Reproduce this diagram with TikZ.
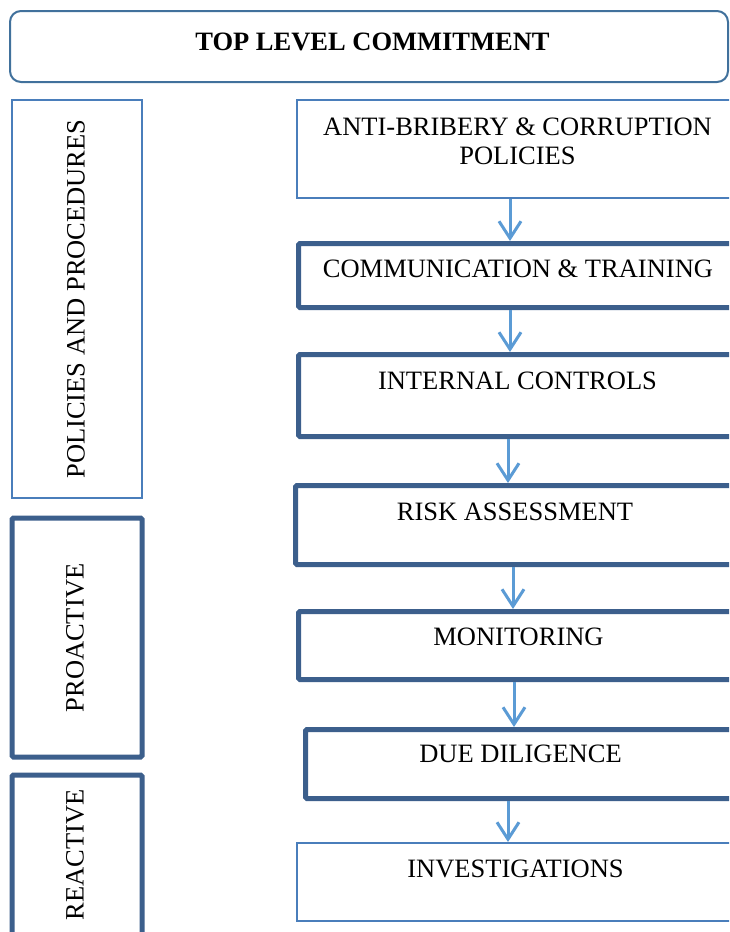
\documentclass[tikz,border=0pt]{standalone}
\usepackage{fontspec}
\setmainfont{Liberation Serif}
\usetikzlibrary{arrows.meta}
\definecolor{thickblue}{HTML}{3C5F8C}
\definecolor{thinblue}{HTML}{4A7EBB}
\definecolor{topblue}{HTML}{41719C}
\definecolor{arrowblue}{HTML}{5B9BD5}
\tikzset{
  thinbox/.style={draw=thinblue, line width=2pt, fill=white, inner sep=0pt},
  thickbox/.style={draw=thickblue, line width=5pt, fill=white, inner sep=0pt, rounded corners=1.5pt},
  topbox/.style={draw=topblue, line width=2pt, fill=white, inner sep=0pt, rounded corners=11pt},
  lbl/.style={font=\fontsize{26.5}{29}\selectfont, inner sep=0pt, align=center},
  flow/.style={draw=arrowblue, line width=3pt, -{Straight Barb[length=17pt,width=22pt]}}
}
\begin{document}
\begin{tikzpicture}[x=1pt, y=-1pt]
\useasboundingbox (0,0) rectangle (729,932);
\fill[white] (0,0) rectangle (729,932);
\clip (0,0) rectangle (729,932);
% top
\node[topbox, minimum width=718pt, minimum height=71pt] (top) at (369,46.5) {};
\node[lbl, font=\fontsize{26.5}{29}\selectfont\bfseries] (toptxt) at (372.5,42) {TOP LEVEL COMMITMENT};
% left column
\node[thinbox, minimum width=130pt, minimum height=398pt] (pol) at (77,299) {};
\node[lbl, rotate=90] (poltxt) at (76,299) {POLICIES AND PROCEDURES};
\node[thickbox, minimum width=130pt, minimum height=239pt] (pro) at (77,637.5) {};
\node[lbl, rotate=90] (protxt) at (75,638) {PROACTIVE};
\node[thickbox, minimum width=130pt, minimum height=163pt] (rea) at (77,856.5) {};
\node[lbl, rotate=90] (reatxt) at (75,855) {REACTIVE};
% right column
\node[thinbox, minimum width=443pt, minimum height=98pt] (b1) at (518.5,149) {};
\node[lbl] (t1) at (517.5,141.5) {ANTI-BRIBERY \& CORRUPTION\\POLICIES};
\node[thickbox, minimum width=441.5pt, minimum height=64pt] (b2) at (519.25,275.5) {};
\node[lbl] (t2) at (518,269) {COMMUNICATION \& TRAINING};
\node[thickbox, minimum width=441.5pt, minimum height=82pt] (b3) at (519.25,395.5) {};
\node[lbl] (t3) at (517.5,381) {INTERNAL CONTROLS};
\node[thickbox, minimum width=444.5pt, minimum height=79pt] (b4) at (517.75,525) {};
\node[lbl] (t4) at (515,512) {RISK ASSESSMENT};
\node[thickbox, minimum width=441.5pt, minimum height=68pt] (b5) at (519.25,645.5) {};
\node[lbl] (t5) at (518.5,637) {MONITORING};
\node[thickbox, minimum width=434.5pt, minimum height=69pt] (b6) at (522.75,764) {};
\node[lbl] (t6) at (520.5,754) {DUE DILIGENCE};
\node[thinbox, minimum width=443pt, minimum height=78pt] (b7) at (518.5,882) {};
\node[lbl] (t7) at (515.5,869) {INVESTIGATIONS};
% arrows
\draw[flow] (510,0 |- b1.south) -- (510,0 |- b2.north);
\draw[flow] (510,0 |- b2.south) -- (510,0 |- b3.north);
\draw[flow] (508,0 |- b3.south) -- (508,0 |- b4.north);
\draw[flow] (513,0 |- b4.south) -- (513,0 |- b5.north);
\draw[flow] (514,0 |- b5.south) -- (514,0 |- b6.north);
\draw[flow] (508,0 |- b6.south) -- (508,0 |- b7.north);
\end{tikzpicture}
\end{document}
